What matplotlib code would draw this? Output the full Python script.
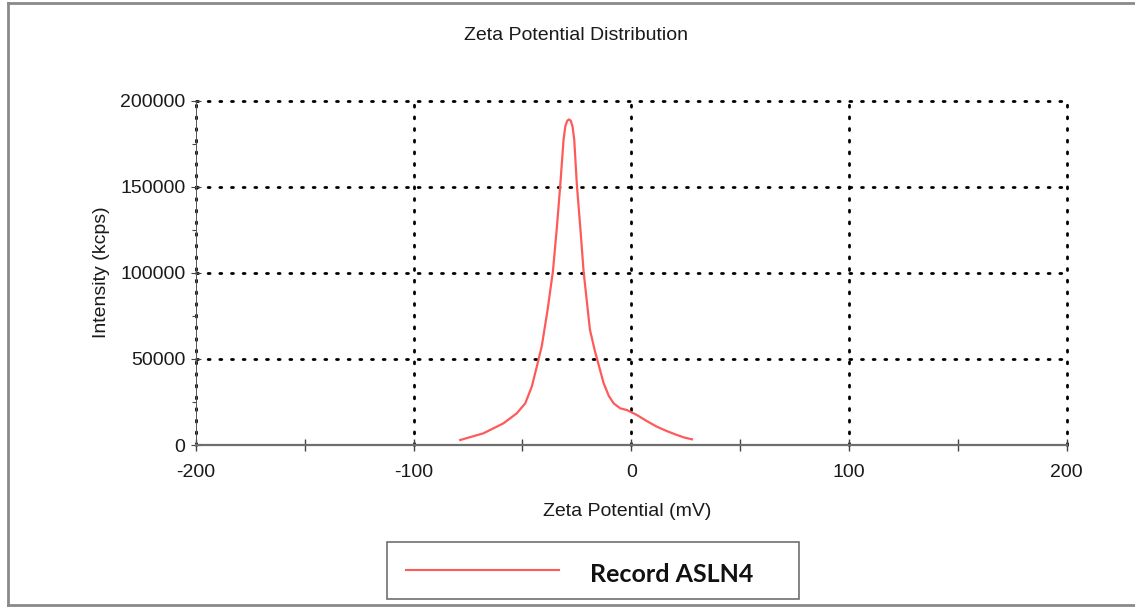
import matplotlib
matplotlib.use("Agg")
import matplotlib.pyplot as plt
from matplotlib.lines import Line2D
from matplotlib.patches import Rectangle

# zeta potential curve
zeta_mv = [-78.6, -67.9, -58.7, -52.6, -48.7, -45.7, -43.4, -41.1, -38.5, -36.0,
           -34.2, -32.6, -31.1, -30.3, -29.4, -28.6, -27.8, -27.0, -26.2, -25.0,
           -23.4, -21.9, -19.0, -16.6, -15.8, -12.7, -10.3, -8.1, -5.1, -2.0,
           2.6, 7.0, 11.8, 16.5, 21.0, 24.5, 27.9]
intensity = [2900, 6800, 12600, 18400, 24200, 33900, 45500, 57500, 78000, 100800,
             126000, 151200, 177300, 185000, 188300, 189000, 188300, 185000, 177300, 151200,
             126000, 100800, 67000, 54000, 50400, 35900, 28500, 24200, 21300, 20300,
             17400, 14000, 10600, 8000, 5800, 4300, 3300]

x_major = [-200, -100, 0, 100, 200]
x_minor = [-150, -50, 50, 150]
y_major = [0, 50000, 100000, 150000, 200000]
y_minor = [25000, 75000, 125000, 175000]

title = "Zeta Potential Distribution"
xlabel = "Zeta Potential (mV)"
ylabel = "Intensity (kcps)"
legend_label = "Record ASLN4"

W, H = 1135, 607
plt.rcParams['font.family'] = ['Liberation Sans', 'DejaVu Sans']
fig = plt.figure(figsize=(W / 100, H / 100), dpi=100)
ax = fig.add_axes([196 / W, 1 - 445 / H, (1066.5 - 196) / W, (445 - 100.5) / H])

ax.set_xlim(-200, 200)
ax.set_ylim(0, 200000)

# dotted grid
dots = dict(color='black', lw=2.0, linestyle=(0, (0.7, 3.5)), dash_capstyle='round', clip_on=False, zorder=1)
for xv in x_major:
    ax.axvline(xv, **dots)
for yv in y_major[1:]:
    ax.axhline(yv, **dots)

ax.plot(zeta_mv, intensity, color='#ff5a5a', lw=1.6, zorder=3, solid_joinstyle='round')

for s in ['top', 'right']:
    ax.spines[s].set_visible(False)
ax.spines['bottom'].set_color('#6e6e6e')
ax.spines['bottom'].set_linewidth(1.6)
ax.spines['left'].set_color('#555555')
ax.spines['left'].set_linewidth(0.7)

ax.set_xticks(x_major)
ax.set_xticks(x_minor, minor=True)
ax.set_yticks(y_major)
ax.set_yticks(y_minor, minor=True)
ax.set_xticklabels([str(v) for v in x_major])
ax.set_yticklabels([str(v) for v in y_major])
ax.tick_params(axis='x', which='both', direction='inout', length=8, width=1.0, color='#444444',
               labelsize=14, pad=10, labelcolor='#1a1a1a')
ax.tick_params(axis='y', which='major', direction='inout', length=7, width=0.8, color='#444444',
               labelsize=14, pad=4, labelcolor='#1a1a1a')
ax.tick_params(axis='y', which='minor', direction='out', length=3, width=0.8, color='#444444')

fig.text(576 / W, 1 - 35 / H, title, ha='center', va='center', fontsize=14, color='#1a1a1a')
fig.text(627 / W, 1 - 511 / H, xlabel, ha='center', va='center', fontsize=14, color='#1a1a1a')
fig.text(102 / W, 1 - 272 / H, ylabel, ha='center', va='center', rotation=90, fontsize=14, color='#1a1a1a')

# legend box drawn in figure pixels
fig.add_artist(Rectangle((387 / W, 1 - 599 / H), (799 - 387) / W, (599 - 542) / H,
                         transform=fig.transFigure, fill=False, edgecolor='#707070', lw=1.2))
fig.add_artist(Line2D([406 / W, 559 / W], [1 - 570 / H, 1 - 570 / H], transform=fig.transFigure,
                      color='#ff5a5a', lw=1.5))
fig.text(590 / W, 1 - 574 / H, legend_label, ha='left', va='center', fontsize=18,
         fontweight='bold', family=['Lato', 'DejaVu Sans'], color='#111111')

# outer frame
frame = dict(transform=fig.transFigure, color='#8a8a8a', lw=2)
fig.add_artist(Line2D([8 / W, 1], [1 - 3 / H, 1 - 3 / H], **frame))
fig.add_artist(Line2D([8 / W, 8 / W], [1 - 3 / H, 1 - 605 / H], **frame))
fig.add_artist(Line2D([8 / W, 1], [1 - 605 / H, 1 - 605 / H], **frame))

fig.savefig("out.png", dpi=100)
